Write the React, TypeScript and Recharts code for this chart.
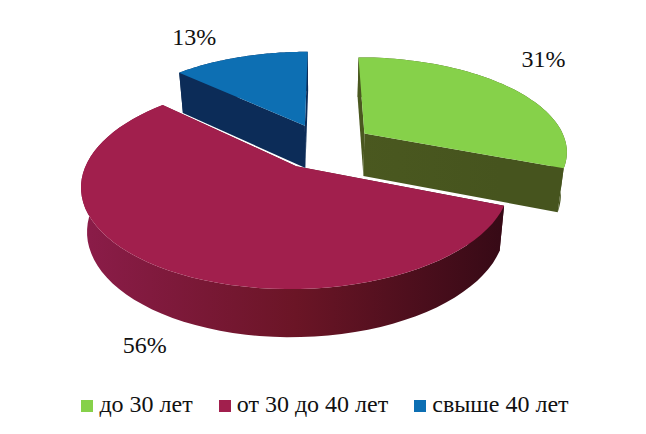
import { Legend, Pie, PieChart } from 'recharts';

const categories = ['до 30 лет', 'от 30 до 40 лет', 'свыше 40 лет'];
const shares = [31, 56, 13];

const topColors = ['#86d14a', '#a11f4d', '#0d6fb3'];
const wallStops = [
  ['#4c5a20', '#4c5a20', '#46541e'],
  ['#8a1c48', '#6b1526', '#370a16'],
  ['#0c2c58', '#0c2c58', '#0c2c58'],
];

const data = categories.map((name, i) => ({ name, value: shares[i], fill: topColors[i] }));

const FONT = "'Liberation Serif', 'Times New Roman', serif";

// fake 3D: the flat pie angles get pushed through a small perspective projection
const CX = 324;
const CY = 146;
const RADIUS = 203;
const EXPLODE = 50;
const TILT = 0.46;
const PERSPECTIVE = 0.175;
const DEPTH = 43;

function project(u: number, v: number) {
  const s = 1 / (1 - (PERSPECTIVE * v) / RADIUS);
  return { x: CX + u * s, y: CY + v * TILT * s, s };
}

function slicePoint(mid: number, angle: number, r: number) {
  const m = (mid * Math.PI) / 180;
  const a = (angle * Math.PI) / 180;
  return project(EXPLODE * Math.cos(m) + r * Math.cos(a), -EXPLODE * Math.sin(m) - r * Math.sin(a));
}

function drop(p: { x: number; y: number; s: number }) {
  return { x: CX + (p.x - CX) * 0.975, y: p.y + DEPTH * (1 + 0.45 * (p.s - 1)) };
}

const toPath = (pts: { x: number; y: number }[]) =>
  pts.map((p, i) => `${i ? 'L' : 'M'}${p.x.toFixed(1)},${p.y.toFixed(1)}`).join(' ') + ' Z';

function Slice3D(props: any) {
  const { startAngle, endAngle, index, fill } = props;
  const mid = (startAngle + endAngle) / 2;
  const steps = 64;
  const arc = [];
  for (let i = 0; i <= steps; i++) {
    arc.push(slicePoint(mid, startAngle + ((endAngle - startAngle) * i) / steps, RADIUS));
  }
  const apex = slicePoint(mid, startAngle, 0);
  const wall = toPath([...arc, ...arc.map(drop).reverse()]);
  const cutA = toPath([apex, arc[0], drop(arc[0]), drop(apex)]);
  const cutB = toPath([apex, arc[steps], drop(arc[steps]), drop(apex)]);
  const id = `wall-${index}`;
  const stops = wallStops[index];
  return (
    <g>
      <defs>
        <linearGradient id={id} gradientUnits="userSpaceOnUse" x1={90} y1={0} x2={500} y2={0}>
          <stop offset="0%" stopColor={stops[0]} />
          <stop offset="50%" stopColor={stops[1]} />
          <stop offset="100%" stopColor={stops[2]} />
        </linearGradient>
      </defs>
      <path d={cutA} fill={`url(#${id})`} />
      <path d={cutB} fill={`url(#${id})`} />
      <path d={wall} fill={`url(#${id})`} />
      <path d={toPath([apex, ...arc])} fill={fill} />
    </g>
  );
}

const labelNudge = [
  { dx: 33, dy: -29 },
  { dx: -13, dy: 79 },
  { dx: -46, dy: -20 },
];

function renderLabel(props: any) {
  const { midAngle, index, value } = props;
  const n = labelNudge[index];
  const p = slicePoint(midAngle, midAngle, RADIUS);
  return (
    <text
      x={p.x + n.dx}
      y={p.y + n.dy}
      textAnchor="middle"
      dominantBaseline="central"
      fontFamily={FONT}
      fontSize={24}
      fill="#111"
    >
      {value}%
    </text>
  );
}

export default function App() {
  return (
    <div style={{ position: 'absolute', left: 0, top: 0, width: 646, height: 434, background: '#fff' }}>
      <PieChart width={646} height={434} margin={{ top: 0, right: 0, bottom: 0, left: 0 }}>
        <Pie
          data={data}
          dataKey="value"
          nameKey="name"
          cx={CX}
          cy={CY}
          outerRadius={RADIUS}
          startAngle={90}
          endAngle={-270}
          stroke="none"
          shape={Slice3D}
          label={renderLabel}
          labelLine={false}
          isAnimationActive={false}
        />
        <Legend
          verticalAlign="bottom"
          iconType="square"
          iconSize={12}
          wrapperStyle={{ fontFamily: FONT, fontSize: 24, bottom: 16, left: 15 }}
          formatter={(value: string) => (
            <span style={{ color: '#111', marginLeft: 2, marginRight: 16 }}>{value}</span>
          )}
        />
      </PieChart>
    </div>
  );
}
